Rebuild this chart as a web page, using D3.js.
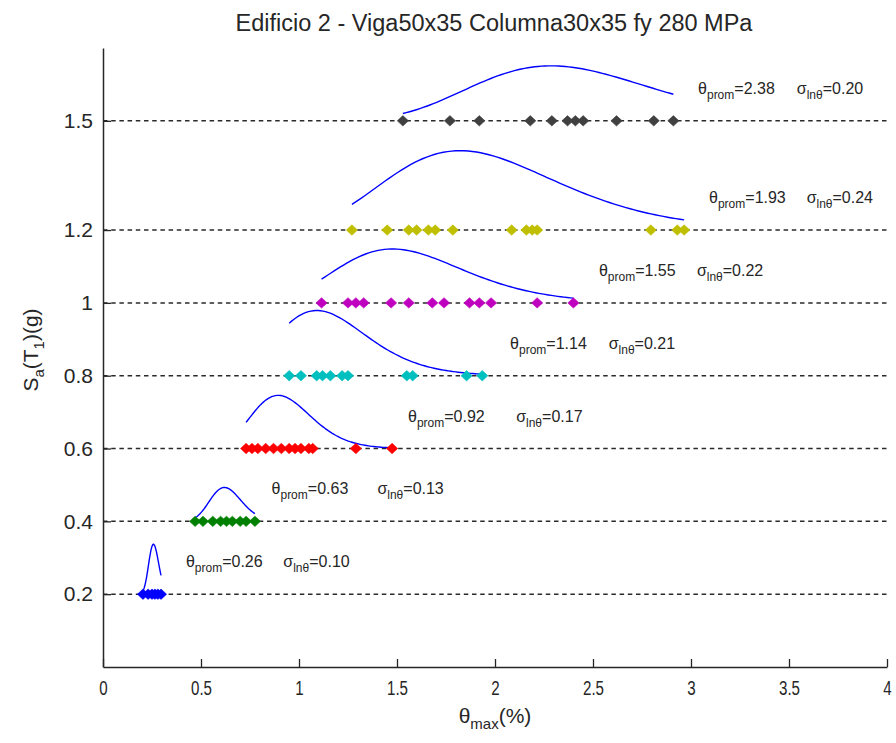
<!DOCTYPE html>
<html>
<head>
<meta charset="utf-8">
<script src="https://cdn.jsdelivr.net/npm/d3@7"></script>
<style>
  html, body { margin: 0; padding: 0; background: #fff; }
  svg { display: block; font-family: "Liberation Sans", Arial, sans-serif; }
</style>
</head>
<body>
<svg id="chart" width="896" height="743"></svg>
<script>
// Intensity levels Sa(T1) [g] at which the records were scaled
const saLevels = [0.2, 0.4, 0.6, 0.8, 1.0, 1.2, 1.5];

// Maximum drift θmax (%) of each record at each intensity level
const driftSa020 = [0.204, 0.23, 0.25, 0.265, 0.28, 0.296];
const driftSa040 = [0.47, 0.51, 0.56, 0.60, 0.63, 0.66, 0.70, 0.73, 0.775];
const driftSa060 = [0.73, 0.76, 0.79, 0.83, 0.87, 0.91, 0.95, 0.98, 1.01, 1.05, 1.07, 1.29, 1.475];
const driftSa080 = [0.95, 1.01, 1.09, 1.12, 1.16, 1.22, 1.25, 1.55, 1.58, 1.855, 1.935];
const driftSa100 = [1.115, 1.25, 1.29, 1.33, 1.47, 1.56, 1.68, 1.74, 1.87, 1.92, 1.98, 2.215, 2.40];
const driftSa120 = [1.27, 1.45, 1.56, 1.60, 1.66, 1.695, 1.785, 2.085, 2.16, 2.19, 2.215, 2.795, 2.93, 2.965];
const driftSa150 = [1.53, 1.77, 1.92, 2.18, 2.29, 2.37, 2.41, 2.45, 2.62, 2.81, 2.91];
const driftByLevel = [driftSa020, driftSa040, driftSa060, driftSa080, driftSa100, driftSa120, driftSa150];

// Fitted lognormal parameters per level
const thetaProm = [0.26, 0.63, 0.92, 1.14, 1.55, 1.93, 2.38];
const sigmaLn   = [0.10, 0.13, 0.17, 0.21, 0.22, 0.24, 0.20];

// Axis ticks
const xTicks = [0, 0.5, 1, 1.5, 2, 2.5, 3, 3.5, 4];
const yTicks = [0.2, 0.4, 0.6, 0.8, 1, 1.2, 1.5];

// Presentation: marker colours, plotted height of each fitted pdf (Sa units), annotation anchors (θ units)
const markerColors = ["#0000ff", "#008000", "#ff0000", "#00bfbf", "#bf00bf", "#bfbf00", "#404040"];
const curveHeight  = [0.137, 0.093, 0.146, 0.179, 0.148, 0.218, 0.151];
const thetaLabelX  = [0.423, 0.86, 1.556, 2.077, 2.53, 3.092, 3.036];
const sigmaLabelX  = [0.92, 1.40, 2.108, 2.58, 3.03, 3.59, 3.54];

const svg = d3.select("#chart");
const margin = { left: 103, right: 9, top: 48, bottom: 76 };
const W = 896, H = 743;

const x = d3.scaleLinear().domain([0, 4]).range([margin.left, W - margin.right]);
const y = d3.scaleLinear().domain([0, 1.7]).range([H - margin.bottom, margin.top]);

const ink = "#262626";

// dashed reference line at each intensity level
svg.append("g").selectAll("line")
  .data(saLevels).join("line")
  .attr("x1", x(0)).attr("x2", x(4))
  .attr("y1", d => y(d)).attr("y2", d => y(d))
  .attr("stroke", "#2a2a2a").attr("stroke-width", 1.5)
  .attr("stroke-dasharray", "4.5,3.7");

// lognormal pdf, scaled to its mode so each curve gets the requested height
function lognormalShape(v, theta, beta) {
  const z = (Math.log(v) - Math.log(theta)) / beta;
  return Math.exp(-0.5 * z * z) / v;
}

const line = d3.line().x(d => x(d[0])).y(d => y(d[1]));

// fitted pdf drawn over the observed drift range of each level
saLevels.forEach((sa, i) => {
  const [lo, hi] = d3.extent(driftByLevel[i]);
  const mode = thetaProm[i] * Math.exp(-sigmaLn[i] * sigmaLn[i]);
  const peak = lognormalShape(mode, thetaProm[i], sigmaLn[i]);
  const xs = d3.range(0, 81).map(k => lo + (hi - lo) * k / 80);
  const curve = xs.map(v => [v, sa + curveHeight[i] * lognormalShape(v, thetaProm[i], sigmaLn[i]) / peak]);
  svg.append("path")
    .attr("d", line(curve))
    .attr("fill", "none")
    .attr("stroke", "#0000ff")
    .attr("stroke-width", 1.4);
});

// diamond markers
const diamond = "M0,-5.2L5.6,0L0,5.2L-5.6,0Z";
saLevels.forEach((sa, i) => {
  svg.append("g").selectAll("path")
    .data(driftByLevel[i]).join("path")
    .attr("d", diamond)
    .attr("transform", d => `translate(${x(d)},${y(sa)})`)
    .attr("fill", markerColors[i])
    .attr("stroke", markerColors[i])
    .attr("stroke-width", 0.6);
});

// annotations θprom / σlnθ
const labels = svg.append("g").attr("fill", ink);
saLevels.forEach((sa, i) => {
  const by = y(sa) - 27;
  const t = labels.append("text").attr("x", x(thetaLabelX[i])).attr("y", by).attr("font-size", 16);
  t.append("tspan").text("θ");
  t.append("tspan").attr("font-size", 12).attr("dy", 5).text("prom");
  t.append("tspan").attr("dy", -5).text("=" + thetaProm[i].toFixed(2));

  const s = labels.append("text").attr("x", x(sigmaLabelX[i])).attr("y", by).attr("font-size", 16);
  s.append("tspan").text("σ");
  s.append("tspan").attr("font-size", 12).attr("dy", 5).text("lnθ");
  s.append("tspan").attr("dy", -5).text("=" + sigmaLn[i].toFixed(2));
});

// axes
const xAxis = d3.axisBottom(x).tickValues(xTicks)
  .tickFormat(d3.format("~g")).tickSizeInner(-8).tickSizeOuter(0).tickPadding(13);
const yAxis = d3.axisLeft(y).tickValues(yTicks)
  .tickFormat(d3.format("~g")).tickSizeInner(-8).tickSizeOuter(0).tickPadding(10);

const gx = svg.append("g").attr("transform", `translate(0,${y(0)})`).call(xAxis);
const gy = svg.append("g").attr("transform", `translate(${x(0)},0)`).call(yAxis);

[gx, gy].forEach(g => {
  g.select(".domain").attr("stroke", ink).attr("stroke-width", 1.5);
  g.selectAll(".tick line").attr("stroke", ink).attr("stroke-width", 1.3);
  g.selectAll(".tick text").attr("fill", ink).attr("font-size", 21)
    .attr("font-family", "'Liberation Sans', Arial, sans-serif");
});
gx.selectAll(".tick text").attr("transform", "scale(0.72,1)");

// title
svg.append("text")
  .attr("x", 494).attr("y", 31)
  .attr("text-anchor", "middle")
  .attr("font-size", 23.5).attr("fill", ink)
  .text("Edificio 2 - Viga50x35 Columna30x35 fy 280 MPa");

// x axis label θmax(%)
const xl = svg.append("text")
  .attr("x", x(2)).attr("y", 723)
  .attr("text-anchor", "middle")
  .attr("font-size", 21).attr("fill", ink);
xl.append("tspan").text("θ");
xl.append("tspan").attr("font-size", 15).attr("dy", 6).text("max");
xl.append("tspan").attr("dy", -6).text("(%)");

// y axis label Sa(T1)(g)
const yl = svg.append("text")
  .attr("transform", "translate(38,350) rotate(-90)")
  .attr("text-anchor", "middle")
  .attr("font-size", 21).attr("fill", ink);
yl.append("tspan").text("S");
yl.append("tspan").attr("font-size", 15).attr("dy", 6).text("a");
yl.append("tspan").attr("dy", -6).text("(T");
yl.append("tspan").attr("font-size", 15).attr("dy", 6).text("1");
yl.append("tspan").attr("dy", -6).text(")(g)");
</script>
</body>
</html>
